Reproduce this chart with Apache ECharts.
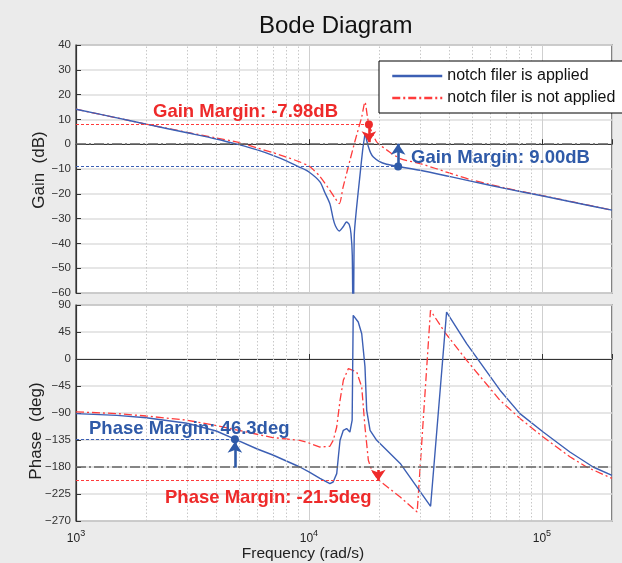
<!DOCTYPE html>
<html>
<head>
<meta charset="utf-8">
<script src="https://cdn.jsdelivr.net/npm/echarts@6/dist/echarts.min.js"></script>
<style>
html, body { margin: 0; padding: 0; background: #ebebeb; }
#bode { width: 622px; height: 563px; }
</style>
</head>
<body>
<div id="bode"></div>
<script>
// gain, notch filter applied  (rad/s, dB)
const gainFreqApplied = [1000, 1500, 2000, 3000, 4000, 5000, 6000, 7000, 8000, 9000, 10000, 11150, 11700, 12300, 12700, 13000, 13500, 14000, 14500, 14900, 15150, 15350, 15500, 15650, 16000, 16500, 17000, 17300, 17440, 17700, 18000, 18400, 18900, 20000, 21560, 24150, 30000, 40000, 50000, 70000, 100000, 150000, 200000];
const gainApplied = [14.1, 10.6, 8.1, 4.6, 2.1, -0.2, -2.3, -4.5, -6.7, -9.0, -11.2, -15.2, -19.5, -24, -30, -33, -35, -33.4, -31.4, -32.5, -36, -45, -90, -37, -26, -14, -2.5, 2.5, 4.3, 1.5, -1, -3.5, -5.2, -6.9, -8.1, -9.0, -10.5, -13, -15, -17.9, -20.8, -24.2, -26.6];

// gain, notch filter not applied
const gainFreqNotApplied = [1000, 1500, 2000, 3000, 4000, 5000, 6000, 7000, 8000, 9000, 10000, 10500, 11150, 12300, 13000, 13500, 14000, 14500, 15000, 15800, 16850, 17400, 17800, 18090, 18600, 19500, 20000, 21560, 24650, 30000, 35000, 40000, 50000, 70000, 100000, 150000, 200000];
const gainNotApplied = [14.1, 10.6, 8.1, 4.8, 2.5, 0.7, -1.5, -3.4, -5.2, -6.9, -8.8, -10.5, -13, -18.6, -22, -24, -17.5, -11.9, -6.5, 1.6, 11, 17, 11.5, 8, 5, 1, 0, -2.3, -5.8, -7.8, -9.8, -11.6, -14.4, -17.7, -20.7, -24.1, -26.6];

// phase, notch filter applied  (rad/s, deg)
const phaseFreqApplied = [1000, 1500, 2000, 3000, 4000, 4810, 6000, 7000, 8000, 9140, 10000, 11150, 12300, 12700, 13160, 13400, 13600, 14050, 14510, 14990, 15330, 15490, 16280, 16850, 17400, 17700, 18300, 19540, 24650, 33290, 38990, 47530, 66100, 80500, 101300, 131900, 166000, 200000];
const phaseApplied = [-91, -94, -98, -107, -120, -133.7, -150, -160, -170, -180, -188, -199, -207.7, -205, -191, -160, -135.5, -118.8, -116, -121.7, -102, 72.8, 61.7, 42, -13, -85.5, -119, -135.5, -174, -245.5, 78.3, 25.7, -52, -91, -121.7, -155, -180, -193.8];

// phase, notch filter not applied
const phaseFreqNotApplied = [1000, 1500, 2000, 3000, 4000, 5000, 7000, 9140, 10000, 11150, 12300, 12720, 13160, 13600, 14050, 14770, 16040, 16850, 17400, 17990, 18600, 19840, 24650, 29150, 33250, 38400, 47530, 66100, 80500, 101300, 131900, 155600, 200000];
const phaseNotApplied = [-88, -91, -95, -102, -111, -119, -131, -135.5, -140, -146.7, -145.5, -135.5, -113.3, -68.8, -35.5, -16, -21.7, -46.7, -113.3, -168.8, -185.5, -201.5, -230, -255, 81, 44, -2.2, -68.8, -99, -130, -163, -180, -199];

// stability margins
const gmFreqApplied = 24150, gmApplied = 9.00;
const gmFreqNotApplied = 18090, gmNotApplied = -7.98;
const pmFreqApplied = 4810, pmApplied = 46.3;
const pmFreqNotApplied = 19840, pmNotApplied = -21.5;

const gainTicks = {min: -60, max: 40, interval: 10};
const phaseTicks = {min: -270, max: 90, interval: 45};
const freqRange = [1000, 200000];

const FONT = '"Liberation Sans", Arial, sans-serif';
const BLUE = '#3c5fb4';
const RED = '#ff3b3b';
const BLUE_TXT = '#2f5aa8';
const RED_TXT = '#ee2a2a';
const DASHDOT = [8, 3, 2, 3];

const zip = (f, v) => f.map((x, i) => [x, v[i]]);

// dotted minor grid at 2..9 x 10^n
const minorFreq = [];
[1000, 10000, 100000].forEach(d => {
    for (let k = 2; k <= 9; k++) {
        if (d * k < freqRange[1]) minorFreq.push(d * k);
    }
});

const minorGrid = (idx) => ({
    type: 'line',
    xAxisIndex: idx,
    yAxisIndex: idx,
    data: [],
    z: 1,
    silent: true,
    markLine: {
        silent: true,
        symbol: 'none',
        label: {show: false},
        lineStyle: {color: '#c8c8c8', type: [1.5, 2], width: 1},
        data: minorFreq.map(v => ({xAxis: v})),
    },
});

const refLine = (val) => ({
    yAxis: val,
    lineStyle: {color: '#666', type: [10, 3, 2, 3], width: 1.5},
});

const marginLine = (f, val, color) => [
    {coord: [freqRange[0], val], lineStyle: {color: color, type: [3, 2], width: 1.2}},
    {coord: [f, val]},
];

const arrow = (f, from, to, color, dot) => [
    {coord: [f, from], symbol: dot ? 'circle' : 'none', symbolSize: 8,
        lineStyle: {color: color, type: 'solid', width: 2.6}, itemStyle: {color: color}},
    {coord: [f, to], symbol: 'arrow', symbolSize: [11, 11], itemStyle: {color: color}},
];

const pow10Label = (v) => {
    const e = Math.round(Math.log10(v));
    return Math.abs(v - Math.pow(10, e)) < v * 1e-6 ? '10{sup|' + e + '}' : '';
};

const minusLabel = (v) => String(v).replace('-', '\u2212');

const xAxisBase = {
    type: 'log',
    logBase: 10,
    min: freqRange[0],
    max: freqRange[1],
    axisLine: {show: true, lineStyle: {color: '#333', width: 1.2}},
    axisTick: {show: true, inside: true, length: 5, lineStyle: {color: '#333'}},
    splitLine: {show: true, lineStyle: {color: '#cfcfcf', width: 1}},
};

const yAxisBase = {
    type: 'value',
    axisLine: {show: true, lineStyle: {color: '#333', width: 1.2}},
    axisTick: {show: true, inside: true, length: 5, lineStyle: {color: '#333'}},
    axisLabel: {fontFamily: FONT, fontSize: 11.5, color: '#333', margin: 5, formatter: minusLabel},
    splitLine: {show: true, lineStyle: {color: '#dedede', width: 1.6}},
};

const options = {
    backgroundColor: '#ebebeb',
    animation: false,
    title: {
        text: 'Bode Diagram',
        left: 254,
        top: 9,
        textStyle: {fontFamily: FONT, fontSize: 24, fontWeight: 'normal', color: '#111'},
    },
    legend: {
        data: ['notch filer is applied', 'notch filer is not applied'],
        orient: 'vertical',
        left: 379,
        top: 61,
        itemWidth: 50,
        itemHeight: 14,
        itemGap: 6,
        padding: [7, 10, 7, 12],
        borderColor: '#000',
        borderWidth: 1,
        backgroundColor: '#fff',
        lineStyle: {width: 2.5},
        itemStyle: {color: 'rgba(0,0,0,0)', borderWidth: 0, opacity: 0},
        textStyle: {fontFamily: FONT, fontSize: 16, color: '#111'},
        z: 10,
    },
    grid: [
        {left: 76, top: 45, width: 536, height: 248, show: true, backgroundColor: '#fff', borderColor: '#333', borderWidth: 1.2},
        {left: 76, top: 305, width: 536, height: 216, show: true, backgroundColor: '#fff', borderColor: '#333', borderWidth: 1.2},
    ],
    xAxis: [
        Object.assign({}, xAxisBase, {gridIndex: 0, axisLabel: {show: false}}),
        Object.assign({}, xAxisBase, {
            gridIndex: 1,
            axisLabel: {
                show: true,
                margin: 8,
                formatter: pow10Label,
                fontFamily: FONT,
                fontSize: 12,
                color: '#222',
                lineHeight: 20,
                rich: {sup: {fontFamily: FONT, fontSize: 9, color: '#222', verticalAlign: 'top', lineHeight: 12}},
            },
        }),
    ],
    yAxis: [
        Object.assign({}, yAxisBase, {gridIndex: 0}, gainTicks),
        Object.assign({}, yAxisBase, {gridIndex: 1}, phaseTicks),
    ],
    series: [
        minorGrid(0),
        minorGrid(1),
        {
            name: 'notch filer is applied',
            type: 'line',
            xAxisIndex: 0,
            yAxisIndex: 0,
            data: zip(gainFreqApplied, gainApplied),
            symbol: 'none',
            smooth: 0.25,
            lineStyle: {color: BLUE, width: 1.4},
            itemStyle: {color: BLUE},
            z: 3,
            markLine: {
                silent: true,
                symbol: 'none',
                label: {show: false},
                data: [
                    refLine(0),
                    marginLine(gmFreqApplied, -gmApplied, BLUE),
                    marginLine(gmFreqNotApplied, -gmNotApplied, RED),
                    arrow(gmFreqNotApplied, -gmNotApplied, 0.8, RED_TXT, true),
                    arrow(gmFreqApplied, -gmApplied, 0.2, BLUE_TXT, true),
                ],
            },
        },
        {
            name: 'notch filer is not applied',
            type: 'line',
            xAxisIndex: 0,
            yAxisIndex: 0,
            data: zip(gainFreqNotApplied, gainNotApplied),
            symbol: 'none',
            smooth: 0.25,
            lineStyle: {color: RED, width: 1.3, type: DASHDOT},
            itemStyle: {color: RED},
            z: 2,
        },
        {
            name: 'notch filer is applied',
            type: 'line',
            xAxisIndex: 1,
            yAxisIndex: 1,
            data: zip(phaseFreqApplied, phaseApplied),
            symbol: 'none',
            lineStyle: {color: BLUE, width: 1.4},
            itemStyle: {color: BLUE},
            z: 3,
            markLine: {
                silent: true,
                symbol: 'none',
                label: {show: false},
                data: [
                    refLine(-180),
                    marginLine(pmFreqApplied, -180 + pmApplied, BLUE),
                    marginLine(pmFreqNotApplied, -180 + pmNotApplied, RED),
                    arrow(pmFreqApplied, -181, -138, BLUE_TXT, false),
                    arrow(pmFreqNotApplied, -185, -203, RED_TXT, false),
                ],
            },
            markPoint: {
                silent: true,
                label: {show: false},
                data: [{coord: [pmFreqApplied, -180 + pmApplied], symbol: 'circle', symbolSize: 8, itemStyle: {color: BLUE_TXT}}],
            },
        },
        {
            name: 'notch filer is not applied',
            type: 'line',
            xAxisIndex: 1,
            yAxisIndex: 1,
            data: zip(phaseFreqNotApplied, phaseNotApplied),
            symbol: 'none',
            lineStyle: {color: RED, width: 1.3, type: DASHDOT},
            itemStyle: {color: RED},
            z: 2,
        },
    ],
    graphic: [
        {type: 'text', x: 39, y: 170, rotation: Math.PI / 2,
            style: {text: 'Gain  (dB)', font: '17px ' + FONT, fill: '#222', textAlign: 'center', textVerticalAlign: 'middle'}},
        {type: 'text', x: 36, y: 431, rotation: Math.PI / 2,
            style: {text: 'Phase  (deg)', font: '17px ' + FONT, fill: '#222', textAlign: 'center', textVerticalAlign: 'middle'}},
        {type: 'text', x: 303, y: 554,
            style: {text: 'Frequency (rad/s)', font: '15.5px ' + FONT, fill: '#222', textAlign: 'center', textVerticalAlign: 'middle'}},
        {type: 'text', x: 153, y: 112, z: 20,
            style: {text: 'Gain Margin: ' + gmNotApplied.toFixed(2) + 'dB', font: 'bold 18.5px ' + FONT, fill: RED_TXT, textVerticalAlign: 'middle'}},
        {type: 'text', x: 411, y: 158, z: 20,
            style: {text: 'Gain Margin: ' + gmApplied.toFixed(2) + 'dB', font: 'bold 18.5px ' + FONT, fill: BLUE_TXT, textVerticalAlign: 'middle'}},
        {type: 'text', x: 89, y: 429, z: 20,
            style: {text: 'Phase Margin: ' + pmApplied.toFixed(1) + 'deg', font: 'bold 18.5px ' + FONT, fill: BLUE_TXT, textVerticalAlign: 'middle'}},
        {type: 'text', x: 165, y: 498, z: 20,
            style: {text: 'Phase Margin: ' + pmNotApplied.toFixed(1) + 'deg', font: 'bold 18.5px ' + FONT, fill: RED_TXT, textVerticalAlign: 'middle'}},
    ],
};

const chart = echarts.init(document.getElementById('bode'));
chart.setOption(options);
</script>
</body>
</html>
